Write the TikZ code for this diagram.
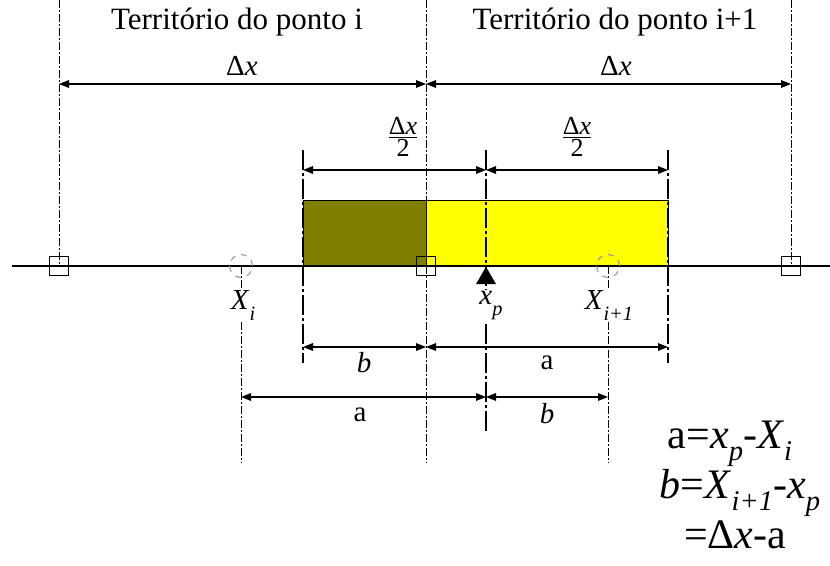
\documentclass[tikz,border=0pt]{standalone}
\usepackage{amsmath}
\usepackage{fontspec}
\setmainfont{Liberation Serif}
\definecolor{myolive}{HTML}{808000}
\definecolor{myyellow}{HTML}{FFFF00}
\definecolor{mycircle}{HTML}{9494B0}
\usepackage{tikz}
\usetikzlibrary{
  positioning, arrows.meta, shapes.geometric
}
\newcommand{\lowsub}[1]{\raisebox{-0.36em}{\scalebox{0.7}{\textit{#1}}}}
\newcommand{\fsub}[1]{\raisebox{-0.28em}{\scalebox{0.68}{\textit{#1}}}}
\tikzset{
	thinline/.style={
			line width=0.5pt,
			dash pattern=on 4pt off 1pt on 1pt off 1pt
		},
	thickline/.style={
			line width=1.4pt,
			dash pattern=on 10pt off 1.5pt on 1.5pt off 1.5pt
		},
	dimline/.style={
			{Triangle[length=5pt,width=3.8pt]}-{Triangle[length=5pt,width=3.8pt]},
			line width=0.6pt
		},
	gridnode/.style={
			rectangle,
			draw=black,
			line width=0.6pt,
			minimum size=9.5pt,
			inner sep=0pt
		},
	centernode/.style={
			circle,
			draw=gray!80,
			dashed,
			line width=0.55pt,
			minimum size=11.5pt,
			inner sep=0pt
		},
	labelnode/.style={
			inner sep=0pt,
			anchor=base,
			font=\fontsize{14.5}{17}\selectfont
		},
	pointlabel/.style={
			labelnode,
			fill=white,
			inner sep=1pt,
			font=\fontsize{14.5}{17}\selectfont
		},
	formulanode/.style={
			labelnode,
			font=\fontsize{21}{24}\selectfont
		}
}

\begin{document}
\begin{tikzpicture}[x=0.5pt, y=-0.5pt]
				\useasboundingbox (0,0) rectangle (830,566);
				% points on the axis
				\coordinate (pl) at (59,266);
				\coordinate (pm) at (426,266);
				\coordinate (pr) at (791,266);
				\coordinate (xi) at (241,266);
				\coordinate (xj) at (608,266);
				\coordinate (xp) at (486,266);
				\coordinate (ba) at (303,266);
				\coordinate (bb) at (668,266);
				\coordinate (axisl) at (12,266);
				\coordinate (axisr) at (830,266);
				% heights
				\coordinate (topend) at (0,0);
				\coordinate (rowtop) at (0,84);
				\coordinate (upper) at (0,150);
				\coordinate (rowhalf) at (0,170);
				\coordinate (bartop) at (0,201);
				\coordinate (rowone) at (0,347);
				\coordinate (lower) at (0,363);
				\coordinate (rowtwo) at (0,397);
				\coordinate (low) at (0,432);
				\coordinate (bottom) at (0,463);
				% bars
				\filldraw[fill=myolive, draw=black, line width=0.5pt] (ba |- bartop) rectangle (pm);
				\filldraw[fill=myyellow, draw=black, line width=0.5pt] (pm |- bartop) rectangle (bb);
				\draw[line width=0.75pt] (axisl) -- (axisr);
				% guide lines
				\draw[thinline] (pl |- topend) -- (pl);
				\draw[thinline] (pr |- topend) -- (pr);
				\draw[thinline] (pm |- topend) -- (pm |- bottom);
				\draw[thinline] (xi) -- (xi |- bottom);
				\draw[thinline] (xj) -- (xj |- bottom);
				\draw[thickline] (ba |- upper) -- (ba |- lower);
				\draw[thickline] (bb |- upper) -- (bb |- lower);
				\draw[thickline] (xp |- upper) -- (xp |- low);
				% markers
				\node[gridnode] (sql) at (pl) {};
				\node[gridnode] (sqm) at (pm) {};
				\node[gridnode] (sqr) at (pr) {};
				\node[centernode] (ci) at (xi) {};
				\node[centernode, draw=mycircle] (cj) at (xj) {};
				\node[regular polygon, regular polygon sides=3, fill=black, minimum size=11.5pt, inner sep=0pt, anchor=corner 1] (tp) at (xp) {};
				% dimensions
				\draw[dimline] (pl |- rowtop) -- (pm |- rowtop);
				\draw[dimline] (pm |- rowtop) -- (pr |- rowtop);
				\draw[dimline] (ba |- rowhalf) -- (xp |- rowhalf);
				\draw[dimline] (xp |- rowhalf) -- (bb |- rowhalf);
				\draw[dimline] (ba |- rowone) -- (pm |- rowone);
				\draw[dimline] (pm |- rowone) -- (bb |- rowone);
				\draw[dimline] (xi |- rowtwo) -- (xp |- rowtwo);
				\draw[dimline] (xp |- rowtwo) -- (xj |- rowtwo);
				% labels
				\node[labelnode, font=\fontsize{15.5}{18}\selectfont] (ti) at (237,30) {Território do ponto i};
				\node[labelnode, font=\fontsize{15.5}{18}\selectfont] (tj) at (615,30) {Território do ponto i+1};
				\node[labelnode] (dxi) at (242,76) {Δ\textit{x}};
				\node[labelnode] (dxj) at (616,76) {Δ\textit{x}};
				\node[labelnode, anchor=center, font=\fontsize{13}{15}\selectfont] (hi) at (403,137) {$\frac{\hbox{Δ\textit{x}}}{\hbox{2}}$};
				\node[labelnode, anchor=center, font=\fontsize{13}{15}\selectfont] (hj) at (577,137) {$\frac{\hbox{Δ\textit{x}}}{\hbox{2}}$};
				\node[labelnode] (lb1) at (364,373) {\textit{b}};
				\node[labelnode] (la1) at (547,370) {a};
				\node[labelnode] (la2) at (360,422) {a};
				\node[labelnode] (lb2) at (547,424) {\textit{b}};
				\node[pointlabel] (lxi) at (243,310) {\textit{X}\lowsub{i}};
				\node[pointlabel] (lxp) at (491,305) {\textit{x}\lowsub{p}};
				\node[pointlabel] (lxj) at (609,310) {\textit{X}\lowsub{i+1}};
				% relations
				\node[formulanode] (fa) at (730,449) {a=\textit{x}\fsub{p}-\textit{X}\fsub{i}};
				\node[formulanode] (fb) at (740,499) {\textit{b}=\textit{X}\fsub{i+1}-\textit{x}\fsub{p}};
				\node[formulanode] (fc) at (735,548) {=Δ\textit{x}-a};
			\end{tikzpicture}
\end{document}
